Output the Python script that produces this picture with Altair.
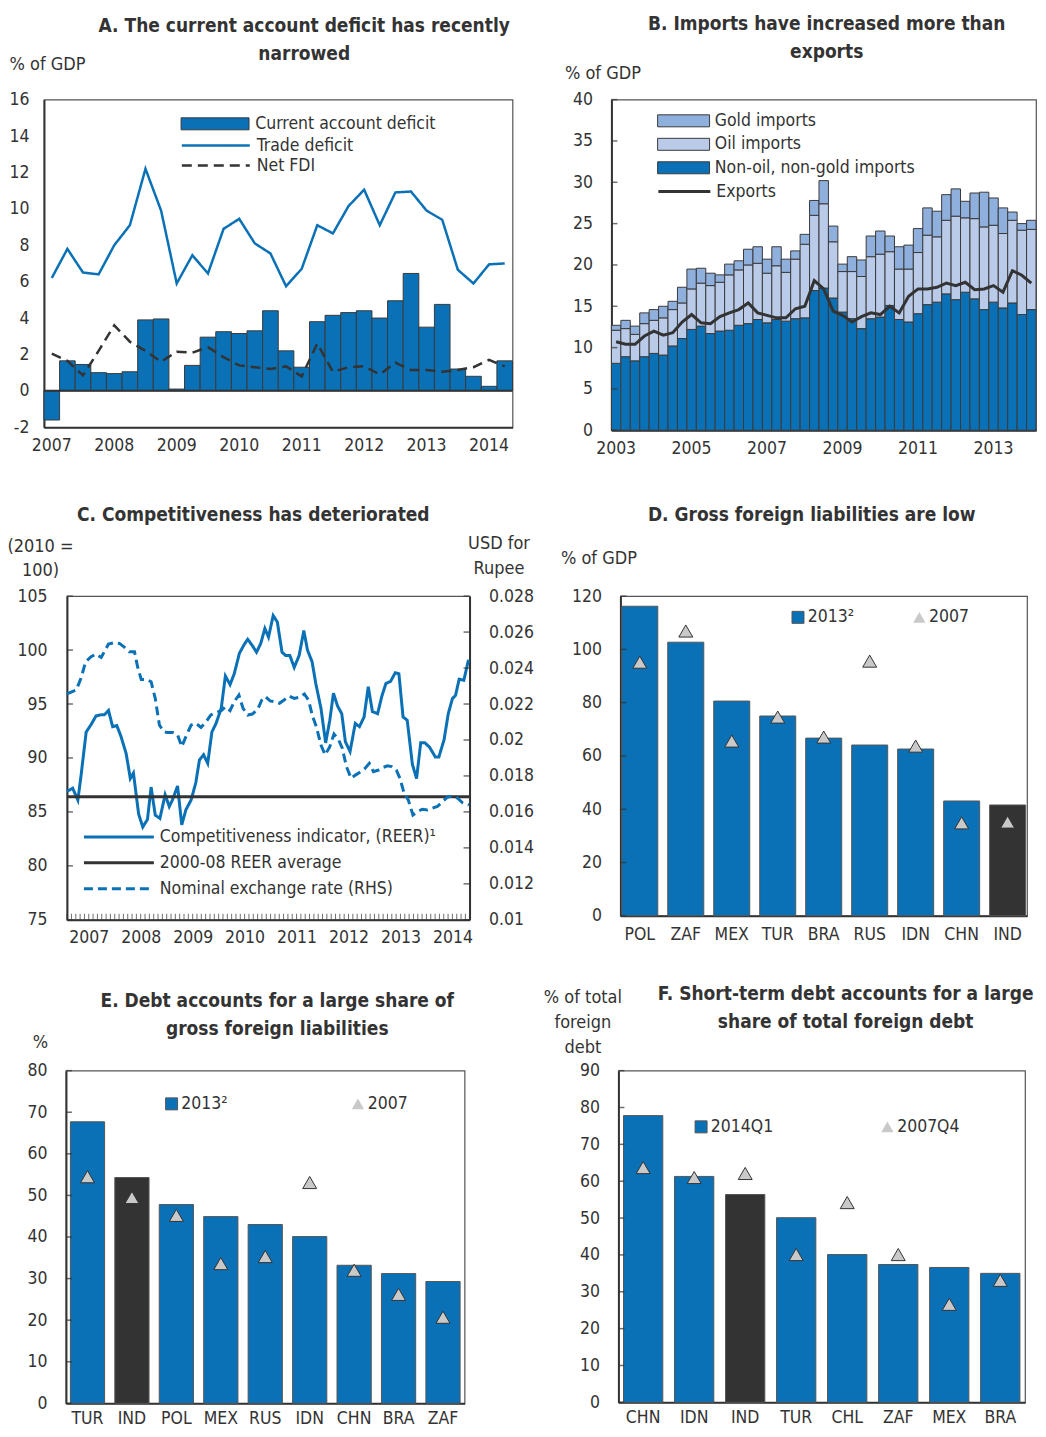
import altair as alt
import pandas as pd

FONT = "DejaVu Sans Condensed, Liberation Sans Narrow, Arial Narrow, Liberation Sans, sans-serif"
TXT = "#333333"
BLUE = "#0a71b6"
DARK = "#333333"
OIL = "#b9cbe9"
GOLD = "#8fafdd"
TRI = "#c9c9c9"
EDGE = "#3a3a3a"
FS = 17.5    # tick labels
ATS = 18     # axis titles
LFS = 17.5   # legend labels
TFS = 19     # panel titles

# ---------------- Panel A data ----------------
a_years = [2007, 2008, 2009, 2010, 2011, 2012, 2013, 2014]
a_quarters = [f"{y}Q{q}" for y in a_years for q in (1, 2, 3, 4)][:30]
a_cad = [-1.6, 1.65, 1.45, 1.0, 0.95, 1.05, 3.9, 3.95, 0.1, 1.4, 2.95, 3.25, 3.15, 3.3, 4.4,
         2.2, 1.3, 3.8, 4.15, 4.3, 4.4, 4.0, 4.95, 6.45, 3.5, 4.75, 1.2, 0.8, 0.25, 1.65]
a_trade = [6.2, 7.8, 6.5, 6.4, 8.0, 9.1, 12.2, 9.9, 5.9, 7.45, 6.45, 8.9, 9.45, 8.1, 7.55,
           5.75, 6.7, 9.1, 8.65, 10.15, 11.05, 9.1, 10.9, 10.95, 9.9, 9.4, 6.65, 5.9, 6.95, 7.0]
a_fdi = [2.05, 1.65, 0.85, 2.2, 3.6, 2.7, 2.2, 1.6, 2.15, 2.1, 2.4, 1.85, 1.4, 1.3, 1.2,
         1.35, 0.8, 2.6, 1.05, 1.3, 1.35, 0.9, 1.55, 1.15, 1.15, 1.05, 1.15, 1.3, 1.7, 1.35]
a_yticks = [-2, 0, 2, 4, 6, 8, 10, 12, 14, 16]
a_bar_name = "Current account deficit"
a_line_names = ["Trade deficit", "Net FDI"]

# ---------------- Panel B data ----------------
b_years = list(range(2003, 2015))
b_quarters = [f"{y}Q{q}" for y in b_years for q in (1, 2, 3, 4)][:45]
b_nonoil = [8.1, 8.9, 8.4, 8.9, 9.3, 9.1, 10.2, 11.1, 12.2, 12.6, 11.7, 12.0, 12.1, 12.7, 12.9,
            13.4, 13.0, 13.4, 13.2, 13.5, 13.6, 16.9, 17.2, 16.0, 14.3, 13.5, 12.3, 13.5, 13.7, 15.1,
            13.4, 13.1, 14.1, 15.2, 15.5, 16.5, 15.8, 16.7, 15.9, 14.6, 15.5, 14.8, 15.4, 14.0, 14.6]
b_oil = [4.0, 3.4, 3.2, 4.0, 4.0, 4.5, 4.4, 4.3, 4.9, 5.2, 5.8, 5.9, 6.7, 6.7, 7.1,
         6.8, 6.0, 6.5, 5.9, 7.2, 8.9, 9.1, 10.2, 6.8, 4.9, 5.7, 6.3, 7.5, 7.6, 6.5,
         6.1, 6.4, 7.4, 8.4, 7.9, 8.9, 10.1, 9.0, 9.7, 10.0, 9.3, 9.0, 10.0, 10.2, 9.7]
b_gold = [0.6, 1.0, 1.0, 1.3, 1.3, 1.4, 1.0, 1.9, 2.4, 1.8, 1.5, 0.9, 1.3, 1.1, 1.9,
          2.0, 1.7, 2.3, 1.6, 1.0, 1.2, 1.8, 2.8, 1.9, 0.9, 1.8, 2.0, 2.5, 2.8, 1.9,
          2.7, 2.9, 2.9, 3.3, 3.1, 3.1, 3.3, 2.0, 3.1, 4.2, 3.3, 3.1, 1.0, 0.8, 1.1]
b_exports = [10.7, 10.4, 10.4, 11.4, 12.0, 11.5, 11.8, 13.1, 14.0, 13.0, 12.9, 13.75, 14.2, 14.6, 15.4,
             14.2, 13.9, 13.6, 13.6, 14.7, 15.0, 18.1, 17.1, 14.4, 13.9, 13.1, 13.75, 14.2, 14.0, 15.0,
             14.2, 16.2, 17.1, 17.1, 17.3, 17.8, 17.5, 17.9, 17.0, 17.1, 17.5, 16.7, 19.3, 18.75, 17.8]
b_yticks = [0, 5, 10, 15, 20, 25, 30, 35, 40]
b_names = ["Gold imports", "Oil imports", "Non-oil, non-gold imports"]

# ---------------- Panel C data ----------------
c_reer_t = [2007.08, 2007.19, 2007.29, 2007.35, 2007.45, 2007.545, 2007.64, 2007.74, 2007.80, 2007.88,
            2007.96, 2008.04, 2008.12, 2008.22, 2008.30, 2008.36, 2008.46, 2008.54, 2008.63, 2008.70,
            2008.78, 2008.87, 2008.97, 2009.05, 2009.11, 2009.21, 2009.29, 2009.37, 2009.47, 2009.56,
            2009.63, 2009.71, 2009.79, 2009.87, 2009.95, 2010.05, 2010.13, 2010.22, 2010.30, 2010.40,
            2010.49, 2010.56, 2010.65, 2010.73, 2010.81, 2010.89, 2010.96, 2011.05, 2011.13, 2011.22,
            2011.29, 2011.37, 2011.455, 2011.55, 2011.64, 2011.71, 2011.80, 2011.87, 2011.97, 2012.06,
            2012.14, 2012.21, 2012.29, 2012.37, 2012.44, 2012.53, 2012.63, 2012.71, 2012.80, 2012.88,
            2012.96, 2013.06, 2013.14, 2013.22, 2013.31, 2013.40, 2013.47, 2013.55, 2013.63, 2013.73,
            2013.81, 2013.89, 2013.97, 2014.06, 2014.17, 2014.24, 2014.34, 2014.42, 2014.50, 2014.56,
            2014.63, 2014.72, 2014.81]
c_reer_v = [86.9, 87.2, 86.1, 88.3, 92.4, 93.1, 93.9, 94.0, 94.0, 94.4,
            92.9, 93.0, 92.0, 90.4, 88.1, 88.6, 84.8, 83.6, 84.3, 87.3,
            84.7, 84.4, 86.6, 85.5, 86.1, 87.4, 83.8, 85.2, 86.1, 87.7,
            89.8, 90.3, 89.5, 92.4, 93.2, 94.6, 97.6, 96.8, 97.8, 99.7,
            100.5, 101.0, 100.4, 99.8, 100.6, 102.0, 101.2, 103.2, 102.6, 99.8,
            99.5, 99.5, 98.4, 99.5, 101.8, 100.0, 98.9, 96.9, 94.6, 91.4,
            93.5, 96.0, 94.8, 94.1, 91.5, 90.6, 93.2, 92.9, 93.8, 96.6,
            94.3, 94.1, 95.7, 96.9, 97.1, 97.9, 97.8, 93.8, 93.5, 89.4,
            88.1, 91.4, 91.4, 91.0, 90.1, 90.1, 91.7, 94.1, 95.5, 95.8,
            97.3, 97.2, 99.1]
c_nom_t = [2007.08, 2007.26, 2007.35, 2007.44, 2007.545, 2007.64, 2007.74, 2007.80, 2007.88, 2007.99,
           2008.09, 2008.19, 2008.28, 2008.38, 2008.44, 2008.51, 2008.60, 2008.70, 2008.78, 2008.86,
           2008.94, 2009.02, 2009.12, 2009.21, 2009.29, 2009.37, 2009.47, 2009.56, 2009.66, 2009.76,
           2009.85, 2009.95, 2010.05, 2010.13, 2010.22, 2010.30, 2010.39, 2010.47, 2010.56, 2010.65,
           2010.75, 2010.83, 2010.90, 2010.99, 2011.07, 2011.17, 2011.26, 2011.36, 2011.455, 2011.55,
           2011.65, 2011.73, 2011.81, 2011.88, 2011.97, 2012.05, 2012.14, 2012.22, 2012.31, 2012.38,
           2012.46, 2012.55, 2012.64, 2012.74, 2012.82, 2012.90, 2012.98, 2013.08, 2013.17, 2013.25,
           2013.33, 2013.42, 2013.49, 2013.57, 2013.65, 2013.74, 2013.83, 2013.92, 2014.02, 2014.11,
           2014.21, 2014.31, 2014.40, 2014.50, 2014.60, 2014.69, 2014.82]
c_nom_v = [0.02256, 0.02278, 0.02343, 0.02435, 0.02463, 0.02478, 0.02459, 0.02491, 0.02533, 0.02541,
           0.02537, 0.02515, 0.02491, 0.02491, 0.02407, 0.02337, 0.02337, 0.02324, 0.02231, 0.02083,
           0.02046, 0.02041, 0.02041, 0.02028, 0.01963, 0.02019, 0.02083, 0.02093, 0.02070, 0.02102,
           0.02139, 0.02152, 0.02163, 0.02185, 0.02163, 0.02213, 0.02250, 0.02176, 0.02139, 0.02144,
           0.02170, 0.02222, 0.02241, 0.02217, 0.02213, 0.02204, 0.02222, 0.02244, 0.02231, 0.02237,
           0.02256, 0.02222, 0.02130, 0.02074, 0.01972, 0.01917, 0.01963, 0.02033, 0.02000, 0.01954,
           0.01852, 0.01787, 0.01806, 0.01824, 0.01843, 0.01870, 0.01824, 0.01833, 0.01848, 0.01856,
           0.01852, 0.01833, 0.01787, 0.01704, 0.01667, 0.01583, 0.01602, 0.01615, 0.01611, 0.01620,
           0.01630, 0.01657, 0.01681, 0.01689, 0.01676, 0.01652, 0.01639]
c_avg = [86.4]
c_domain = [2007.08, 2014.83]
c_label_pos = [2007.5, 2008.5, 2009.5, 2010.5, 2011.5, 2012.5, 2013.5, 2014.5]
c_months = [2007 + m / 12 for m in range(1, 94)]
c_left_ticks = [75, 80, 85, 90, 95, 100, 105]
c_right_ticks = [0.01, 0.012, 0.014, 0.016, 0.018, 0.02, 0.022, 0.024, 0.026, 0.028]
c_names = ["Competitiveness indicator, (REER)\u00b9", "2000-08 REER average", "Nominal exchange rate (RHS)"]

# ---------------- Panels D, E, F data ----------------
d_countries = ["POL", "ZAF", "MEX", "TUR", "BRA", "RUS", "IDN", "CHN", "IND"]
d_2013 = [116.2, 102.7, 80.6, 75.0, 66.7, 64.1, 62.6, 43.1, 41.6]
d_2007 = [95.2, 106.9, 65.6, 74.6, 67.1, 95.6, 63.7, 34.9, 35.2]
d_yticks = [0, 20, 40, 60, 80, 100, 120]

e_countries = ["TUR", "IND", "POL", "MEX", "RUS", "IDN", "CHN", "BRA", "ZAF"]
e_2013 = [67.7, 54.3, 47.8, 44.9, 43.0, 40.1, 33.2, 31.2, 29.3]
e_2007 = [54.5, 49.5, 45.2, 33.6, 35.3, 53.1, 32.0, 26.2, 20.7]
e_yticks = [0, 10, 20, 30, 40, 50, 60, 70, 80]

f_countries = ["CHN", "IDN", "IND", "TUR", "CHL", "ZAF", "MEX", "BRA"]
f_2014 = [77.8, 61.3, 56.4, 50.1, 40.1, 37.4, 36.6, 35.0]
f_2007 = [63.7, 61.0, 62.1, 40.1, 54.2, 40.1, 26.6, 33.1]
f_yticks = [0, 10, 20, 30, 40, 50, 60, 70, 80, 90]


# ---------------- helpers ----------------
def rect_path(w, h):
    hw, hh = w / 2 / 8, h / 2 / 8
    return f"M-{hw},-{hh}H{hw}V{hh}H-{hw}Z"


def line_path(w):
    hw = w / 2 / 8
    return f"M-{hw},0H{hw}"


def leg(x, y, **kw):
    base = dict(orient="none", legendX=x, legendY=y, title=None, padding=0,
                labelFont=FONT, labelFontSize=LFS, labelColor=TXT, labelLimit=400)
    base.update(kw)
    return alt.Legend(**base)


def yticks_layer(vals, scale, x_px, axis):
    return alt.Chart(pd.DataFrame({"v": vals})).mark_tick(
        orient="horizontal", color=DARK, thickness=1.5, size=6
    ).encode(y=alt.Y("v:Q", scale=scale, axis=axis), x=alt.value(x_px))


def spacer(w):
    return alt.Chart(pd.DataFrame({"z": [0]})).mark_point(opacity=0).encode(
        x=alt.value(0), y=alt.value(0)
    ).properties(width=w, height=10, view=alt.ViewBackground(stroke="transparent"))


def title(lines, dx, offset):
    return alt.TitleParams(text=lines, anchor="middle", frame="group", dx=dx, offset=offset,
                           lineHeight=28, font=FONT, fontSize=TFS, fontWeight="bold", color=TXT)


IND = dict(fill="independent", stroke="independent", strokeDash="independent", shape="independent")


def indep(ch):
    return ch.resolve_scale(**IND).resolve_legend(**IND)


# ---------------- Panel A ----------------
AW, AH = 469, 328
a_xs = alt.Scale(domain=a_quarters, paddingInner=0, paddingOuter=0)
a_xaxis = alt.Axis(title=None, ticks=False, tickSize=0, labelAngle=0, labelOverlap=False, labelPadding=9,
                   labelExpr="slice(datum.value, 4) == 'Q1' ? slice(datum.value, 0, 4) : ''")
a_ys = alt.Scale(domain=[-2, 16], nice=False, zero=False)
a_yaxis = alt.Axis(values=a_yticks, ticks=False, tickSize=0, labelPadding=15, title="% of GDP",
                   labelExpr="'' + datum.value",
                   titleAngle=0, titleAlign="left", titleBaseline="middle", titleX=-35, titleY=-35)

df_a_bar = pd.DataFrame({"q": a_quarters, "v": a_cad, "s": a_bar_name})
df_a_line = pd.DataFrame({"q": a_quarters * 2, "v": a_trade + a_fdi,
                          "s": [a_line_names[0]] * len(a_trade) + [a_line_names[1]] * len(a_fdi)})
leg_a_line = leg(162.5, 36.5, symbolType=line_path(68), symbolSize=256, symbolStrokeWidth=2.5,
                 labelOffset=31.5, rowPadding=2)

a_bars = alt.Chart(df_a_bar).mark_bar(stroke=EDGE, strokeWidth=1).encode(
    x=alt.X("q:O", scale=a_xs, axis=a_xaxis),
    y=alt.Y("v:Q", scale=a_ys, axis=a_yaxis),
    fill=alt.Fill("s:N", scale=alt.Scale(domain=[a_bar_name], range=[BLUE]),
                  legend=leg(162.5, 15.5, symbolType=rect_path(68, 12), symbolSize=256,
                             symbolStrokeColor=EDGE, symbolStrokeWidth=1, labelOffset=31.5)),
)
a_zero = alt.Chart(pd.DataFrame({"v": [0]})).mark_rule(color=DARK, strokeWidth=2).encode(
    y=alt.Y("v:Q", scale=a_ys, axis=a_yaxis))
a_lines = alt.Chart(df_a_line).mark_line(strokeWidth=2.5).encode(
    x=alt.X("q:O", scale=a_xs, axis=a_xaxis),
    y=alt.Y("v:Q", scale=a_ys, axis=a_yaxis),
    stroke=alt.Stroke("s:N", scale=alt.Scale(domain=a_line_names, range=[BLUE, DARK]), legend=leg_a_line),
    strokeDash=alt.StrokeDash("s:N", scale=alt.Scale(domain=a_line_names, range=[[1, 0], [10, 6]]),
                              legend=leg_a_line),
)
panel_a = alt.layer(a_bars, a_zero, a_lines).properties(
    width=AW, height=AH,
    title=title(["A. The current account deficit has recently", "narrowed"], 26, -8))

# ---------------- Panel B ----------------
BW, BH = 425, 331
b_rows = []
for q, n1, n2, n3 in zip(b_quarters, b_nonoil, b_oil, b_gold):
    b_rows.append({"q": q, "s": b_names[2], "v": n1, "o": 0})
    b_rows.append({"q": q, "s": b_names[1], "v": n2, "o": 1})
    b_rows.append({"q": q, "s": b_names[0], "v": n3, "o": 2})
df_b = pd.DataFrame(b_rows)
df_b_exp = pd.DataFrame({"q": b_quarters, "v": b_exports, "s": "Exports"})

b_xs = alt.Scale(domain=b_quarters, paddingInner=0, paddingOuter=0)
b_xaxis = alt.Axis(title=None, ticks=False, tickSize=0, labelAngle=0, labelOverlap=False, labelPadding=9,
                   labelExpr="(slice(datum.value, 4) == 'Q1' && (+slice(datum.value, 0, 4)) % 2 == 1) ? slice(datum.value, 0, 4) : ''")
b_ys = alt.Scale(domain=[0, 40], nice=False)
b_yaxis = alt.Axis(values=b_yticks, ticks=False, tickSize=0, labelPadding=19, title="% of GDP",
                   titleAngle=0, titleAlign="left", titleBaseline="middle", titleX=-47, titleY=-26)

b_bars = alt.Chart(df_b).mark_bar(stroke=EDGE, strokeWidth=1).encode(
    x=alt.X("q:O", scale=b_xs, axis=b_xaxis),
    y=alt.Y("v:Q", scale=b_ys, axis=b_yaxis, stack="zero"),
    fill=alt.Fill("s:N", scale=alt.Scale(domain=b_names, range=[GOLD, OIL, BLUE]),
                  legend=leg(63.5, 12.5, symbolType=rect_path(52, 12), symbolSize=256,
                             symbolStrokeColor=EDGE, symbolStrokeWidth=1, labelOffset=22.5, rowPadding=4.5)),
    order=alt.Order("o:Q", sort="ascending"),
)
b_line = alt.Chart(df_b_exp).mark_line(strokeWidth=3).encode(
    x=alt.X("q:O", scale=b_xs, axis=b_xaxis),
    y=alt.Y("v:Q", scale=b_ys, axis=b_yaxis),
    stroke=alt.Stroke("s:N", scale=alt.Scale(domain=["Exports"], range=[DARK]),
                      legend=leg(63.5, 82.5, symbolType=line_path(52), symbolSize=256,
                                 symbolStrokeWidth=3, labelOffset=22.5)),
)
panel_b = alt.layer(b_bars, b_line, yticks_layer(b_yticks, b_ys, 3, b_yaxis)).properties(
    width=BW, height=BH,
    title=title(["B. Imports have increased more than", "exports"], 3, 3))

# ---------------- Panel C ----------------
CW, CH = 403, 324
c_xs = alt.Scale(domain=c_domain, nice=False, zero=False)
c_xaxis = alt.Axis(values=c_label_pos, labelExpr="floor(datum.value)", ticks=False, tickSize=0,
                   title=None, labelPadding=9, grid=False)
c_lys = alt.Scale(domain=[75, 105], nice=False, zero=False)
c_rys = alt.Scale(domain=[0.01, 0.028], nice=False, zero=False)
c_lyaxis = alt.Axis(values=c_left_ticks, ticks=False, tickSize=0, labelPadding=20,
                    title=["(2010 =", "100)"], titleAngle=0, titleAlign="center",
                    titleBaseline="middle", titleX=-27, titleY=-50, titleLineHeight=24)
c_ryaxis = alt.Axis(orient="right", values=c_right_ticks, format=".3~f", ticks=False, tickSize=0,
                    labelPadding=19, title=["USD for", "Rupee"], titleAngle=0, titleAlign="center",
                    titleBaseline="middle", titleX=29, titleY=-53, titleLineHeight=25)
leg_c = leg(42.5, 231.5, symbolType=line_path(70), symbolSize=256, symbolStrokeWidth=3,
            labelOffset=31.5, rowPadding=8)
c_stroke = alt.Stroke("s:N", scale=alt.Scale(domain=c_names, range=[BLUE, DARK, BLUE]), legend=leg_c)
c_dash = alt.StrokeDash("s:N", scale=alt.Scale(domain=c_names, range=[[1, 0], [1, 0], [9, 5]]), legend=leg_c)

df_c_reer = pd.DataFrame({"t": c_reer_t, "v": c_reer_v, "s": c_names[0]})
df_c_avg = pd.DataFrame({"v": c_avg, "s": c_names[1]})
df_c_nom = pd.DataFrame({"t": c_nom_t, "v": c_nom_v, "s": c_names[2]})

c_reer = alt.Chart(df_c_reer).mark_line(strokeWidth=3).encode(
    x=alt.X("t:Q", scale=c_xs, axis=c_xaxis),
    y=alt.Y("v:Q", scale=c_lys, axis=c_lyaxis),
    stroke=c_stroke, strokeDash=c_dash,
)
c_avg_rule = alt.Chart(df_c_avg).mark_rule(strokeWidth=3).encode(
    y=alt.Y("v:Q", scale=c_lys, axis=c_lyaxis), stroke=c_stroke, strokeDash=c_dash)
c_month_ticks = alt.Chart(pd.DataFrame({"t": c_months})).mark_tick(
    orient="vertical", color=DARK, thickness=1, size=6
).encode(x=alt.X("t:Q", scale=c_xs, axis=c_xaxis), y=alt.value(CH - 3))
c_left = alt.layer(c_reer, c_avg_rule, yticks_layer(c_left_ticks, c_lys, 3, c_lyaxis), c_month_ticks)

c_nom = alt.Chart(df_c_nom).mark_line(strokeWidth=3).encode(
    x=alt.X("t:Q", scale=c_xs, axis=c_xaxis),
    y=alt.Y("v:Q", scale=c_rys, axis=c_ryaxis),
    stroke=c_stroke, strokeDash=c_dash,
)
c_right = alt.layer(c_nom, yticks_layer(c_right_ticks, c_rys, CW - 3, c_ryaxis))
panel_c = alt.layer(c_left, c_right).resolve_scale(y="independent").properties(
    width=CW, height=CH, title=title(["C. Competitiveness has deteriorated"], -15, 9))


# ---------------- Bar panels ----------------
def bar_panel(cats, v_new, v_old, key_new, key_old, W, H, ymax, yvals, ytitle, pin, pout,
              lx_new, lx_old, ly, ttl, xpad):
    df_bar = pd.DataFrame({"c": cats, "v": v_new,
                           "k": [("IND" if c == "IND" else key_new) for c in cats]})
    df_tri = pd.DataFrame({"c": cats, "v": v_old, "k": key_old})
    xs = alt.Scale(domain=cats, paddingInner=pin, paddingOuter=pout)
    xa = alt.Axis(title=None, ticks=False, tickSize=0, labelAngle=0, labelPadding=xpad)
    ys = alt.Scale(domain=[0, ymax], nice=False)
    ya = alt.Axis(values=yvals, ticks=False, tickSize=0, labelPadding=19, titleAngle=0, **ytitle)
    bars = alt.Chart(df_bar).mark_bar(stroke="#555555", strokeWidth=1).encode(
        x=alt.X("c:N", scale=xs, axis=xa),
        y=alt.Y("v:Q", scale=ys, axis=ya),
        fill=alt.Fill("k:N", scale=alt.Scale(domain=[key_new, "IND"], range=[BLUE, DARK]),
                      legend=leg(lx_new, ly, values=[key_new], symbolType="square", symbolSize=144,
                                 symbolStrokeColor="#555555", symbolStrokeWidth=1, labelOffset=1)),
    )
    tris = alt.Chart(df_tri).mark_point(filled=True, fill=TRI, stroke=DARK, strokeWidth=1,
                                        size=196, opacity=1).encode(
        x=alt.X("c:N", scale=xs, axis=xa),
        y=alt.Y("v:Q", scale=ys, axis=ya),
        shape=alt.Shape("k:N", scale=alt.Scale(domain=[key_old], range=["triangle-up"]),
                        legend=leg(lx_old, ly, symbolSize=150, symbolFillColor=TRI,
                                   symbolStrokeColor=DARK, symbolStrokeWidth=1, labelOffset=1)),
    )
    return alt.layer(bars, tris, yticks_layer(yvals, ys, 3, ya)).properties(width=W, height=H, title=ttl)


panel_d = bar_panel(d_countries, d_2013, d_2007, "2013\u00b2", "2007", 407, 320, 120, d_yticks,
                    dict(title="% of GDP", titleAlign="left", titleBaseline="middle", titleX=-60, titleY=-38),
                    0.217, 0.03, 169, 290.5, 12.5,
                    title(["D.  Gross foreign liabilities are low"], -12, 24), 10)
panel_e = bar_panel(e_countries, e_2013, e_2007, "2013\u00b2", "2007", 399, 333, 80, e_yticks,
                    dict(title="%", titleAlign="center", titleBaseline="middle", titleX=-26, titleY=-28),
                    0.23, 0.1, 97, 283.5, 24.5,
                    title(["E. Debt accounts for a large share of", "gross foreign liabilities"], 12, -5), 6)
panel_f = bar_panel(f_countries, f_2014, f_2007, "2014Q1", "2007Q4", 407, 332, 90, f_yticks,
                    dict(title=["% of total", "foreign", "debt"], titleAlign="center", titleBaseline="middle",
                         titleX=-36, titleY=-73, titleLineHeight=25),
                    0.23, 0.1, 74, 260.5, 47.5,
                    title(["F. Short-term debt accounts for a large", "share of total foreign debt"], 24, -43), 6)

row1 = indep(alt.hconcat(panel_a, spacer(99), panel_b, spacing=0, bounds="flush"))
row2 = indep(alt.hconcat(spacer(23), panel_c, spacer(151), panel_d, spacing=0, bounds="flush"))
row3 = indep(alt.hconcat(spacer(22), panel_e, spacer(154), panel_f, spacing=0, bounds="flush"))

lower = indep(alt.vconcat(row2, row3, spacing=36))
chart = indep(alt.vconcat(row1, lower, spacing=47,
                          padding={"left": -2, "top": 5, "right": 0, "bottom": 0})).configure(
    font=FONT
).configure_view(stroke="#555555", strokeWidth=1.2).configure_axis(
    labelFont=FONT, labelFontSize=FS, labelColor=TXT, titleFont=FONT, titleFontSize=ATS,
    titleColor=TXT, titleFontWeight="normal", domainColor=DARK, domainWidth=2, grid=False
).configure_legend(labelFont=FONT, labelFontSize=LFS, labelColor=TXT)

chart.save("out.html", embed_options={"renderer": "svg", "actions": False})
